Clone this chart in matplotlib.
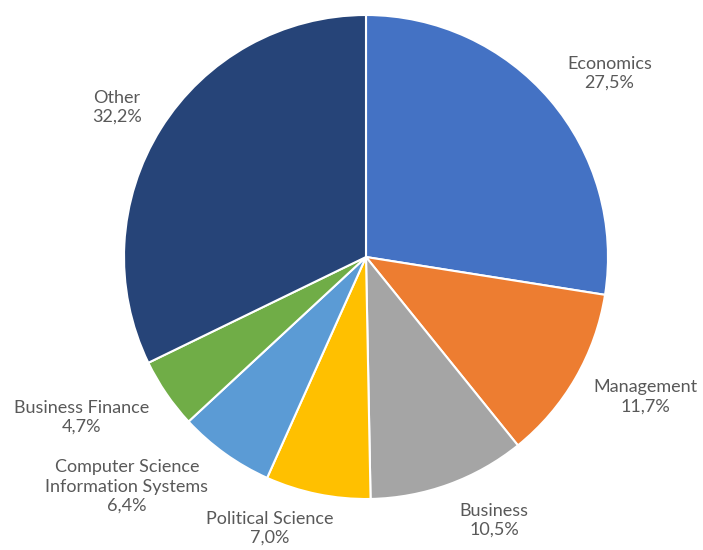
import numpy as np
import matplotlib
matplotlib.use("Agg")
import matplotlib.pyplot as plt

plt.rcParams["font.family"] = ["Lato", "DejaVu Sans"]

fields = [
    "Economics",
    "Management",
    "Business",
    "Political Science",
    "Computer Science\nInformation Systems",
    "Business Finance",
    "Other",
]
shares = [27.5, 11.7, 10.5, 7.0, 6.4, 4.7, 32.2]
colors = ["#4472C4", "#ED7D31", "#A5A5A5", "#FFC000", "#5B9BD5", "#70AD47", "#264478"]

# label placement (radius factor, angle tweak in degrees)
label_radius = [1.26, 1.29, 1.21, 1.19, 1.37, 1.35, 1.20]
label_shift = [-3.5, 3.4, 6.0, -8.0, -10.5, -5.0, 1.0]

fig = plt.figure(figsize=(7.03, 5.5), dpi=100)
ax = fig.add_axes([0, 0, 1, 1])

cx, cy, r = 366, 257, 242

wedges, _ = ax.pie(
    shares,
    colors=colors,
    startangle=90,
    counterclock=False,
    radius=1.0,
    wedgeprops={"edgecolor": "white", "linewidth": 1.5},
    frame=False,
)
ax.set_xlim(-cx / r, (703 - cx) / r)
ax.set_ylim((cy - 550) / r, cy / r)
ax.set_aspect("auto")
ax.axis("off")

for w, name, val, rf, sh in zip(wedges, fields, shares, label_radius, label_shift):
    mid = np.deg2rad((w.theta1 + w.theta2) / 2 + sh)
    ax.text(
        rf * np.cos(mid),
        rf * np.sin(mid),
        f"{name}\n{val:.1f}%".replace(".", ","),
        ha="center",
        va="center",
        fontsize=13,
        color="#595959",
        linespacing=1.25,
    )

fig.savefig("out.png", dpi=100)
